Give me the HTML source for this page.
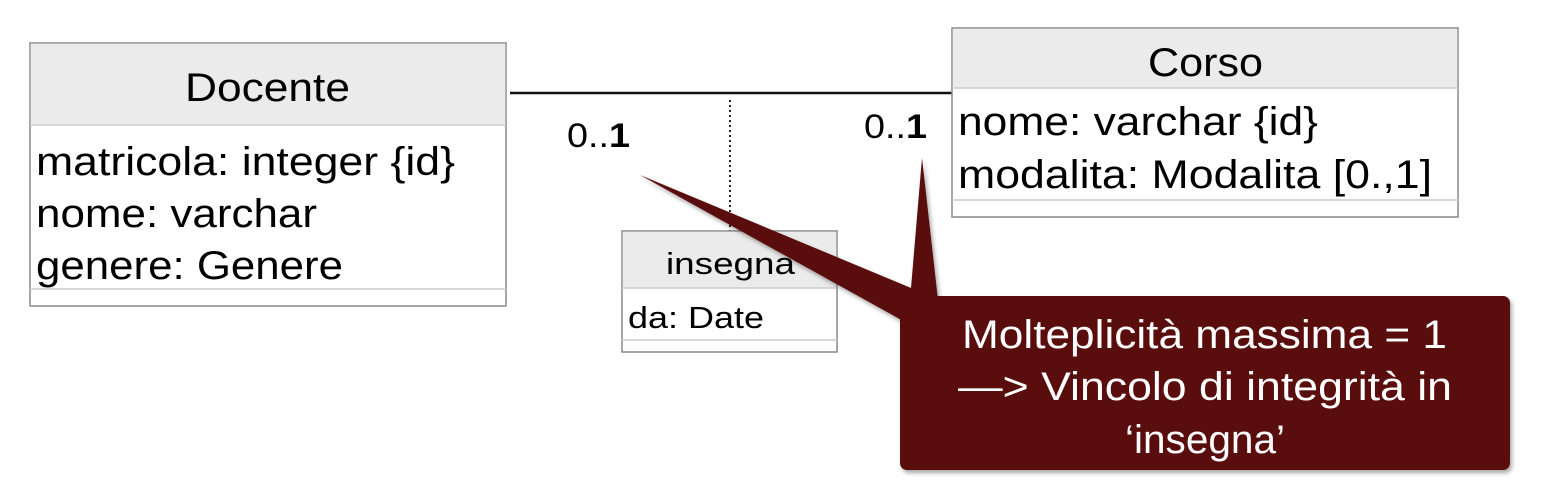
<!DOCTYPE html>
<html><head><meta charset="utf-8"><style>
html,body{margin:0;padding:0;background:#fff;width:1550px;height:482px;overflow:hidden}
svg{display:block;font-family:"Liberation Sans","DejaVu Sans",sans-serif}
</style></head><body>
<svg width="1550" height="482" viewBox="0 0 1550 482">
<defs><filter id="sh" x="-5%" y="-5%" width="110%" height="115%"><feDropShadow dx="2" dy="3" stdDeviation="2" flood-color="#000" flood-opacity="0.35"/></filter></defs>
<g>
<rect x="30" y="43" width="476" height="263" fill="#fff" stroke="#888" stroke-width="1.5"/>
<rect x="30.75" y="43.75" width="474.5" height="81" fill="#ebebeb"/>
<line x1="30" y1="125" x2="506" y2="125" stroke="#ccc" stroke-width="1.5"/>
<line x1="30" y1="289" x2="506" y2="289" stroke="#ccc" stroke-width="1.5"/>
<text x="185" y="101" font-size="40" textLength="165" lengthAdjust="spacingAndGlyphs">Docente</text>
<text x="36" y="175" font-size="40" textLength="419" lengthAdjust="spacingAndGlyphs">matricola: integer {id}</text>
<text x="36" y="227" font-size="40" textLength="281" lengthAdjust="spacingAndGlyphs">nome: varchar</text>
<text x="36" y="279" font-size="40" textLength="307" lengthAdjust="spacingAndGlyphs">genere: Genere</text>
</g>
<line x1="510" y1="93" x2="952" y2="93" stroke="#111" stroke-width="2.5"/>
<line x1="730" y1="100" x2="730" y2="232" stroke="#222" stroke-width="2" stroke-dasharray="2,3"/>
<text x="567" y="147" font-size="34" textLength="63" lengthAdjust="spacingAndGlyphs">0..<tspan font-weight="bold">1</tspan></text>
<text x="864" y="138" font-size="34" textLength="63" lengthAdjust="spacingAndGlyphs">0..<tspan font-weight="bold">1</tspan></text>
<g>
<rect x="952" y="28" width="506" height="189" fill="#fff" stroke="#888" stroke-width="1.5"/>
<rect x="952.75" y="28.75" width="504.5" height="59" fill="#ebebeb"/>
<line x1="952" y1="88" x2="1458" y2="88" stroke="#ccc" stroke-width="1.5"/>
<line x1="952" y1="200" x2="1458" y2="200" stroke="#ccc" stroke-width="1.5"/>
<text x="1148" y="76" font-size="40" textLength="115" lengthAdjust="spacingAndGlyphs">Corso</text>
<text x="958" y="135" font-size="40" textLength="360" lengthAdjust="spacingAndGlyphs">nome: varchar {id}</text>
<text x="958" y="188" font-size="40" textLength="474" lengthAdjust="spacingAndGlyphs">modalita: Modalita [0.,1]</text>
</g>
<g>
<rect x="622" y="231" width="215" height="121" fill="#fff" stroke="#888" stroke-width="1.5"/>
<rect x="622.75" y="231.75" width="213.5" height="56" fill="#ebebeb"/>
<line x1="622" y1="288" x2="837" y2="288" stroke="#ccc" stroke-width="1.5"/>
<line x1="622" y1="340" x2="837" y2="340" stroke="#ccc" stroke-width="1.5"/>
<text x="666" y="274" font-size="31" textLength="129" lengthAdjust="spacingAndGlyphs">insegna</text>
<text x="628" y="328" font-size="31" textLength="136" lengthAdjust="spacingAndGlyphs">da: Date</text>
</g>
<g filter="url(#sh)">
<polygon points="640,175 935,298 905,322" fill="#5a0a0a"/>
<polygon points="922,158 910,300 938,300" fill="#5a0a0a"/>
<rect x="900" y="296" width="610" height="174" rx="7" fill="#5a0a0a"/>
</g>
<g fill="#fff" font-size="40">
<text x="962" y="348" textLength="485" lengthAdjust="spacingAndGlyphs">Molteplicità massima = 1</text>
<text x="958" y="400" textLength="494" lengthAdjust="spacingAndGlyphs">—&gt; Vincolo di integrità in</text>
<text x="1125" y="453" textLength="160" lengthAdjust="spacingAndGlyphs">‘insegna’</text>
</g>
</svg>
</body></html>
